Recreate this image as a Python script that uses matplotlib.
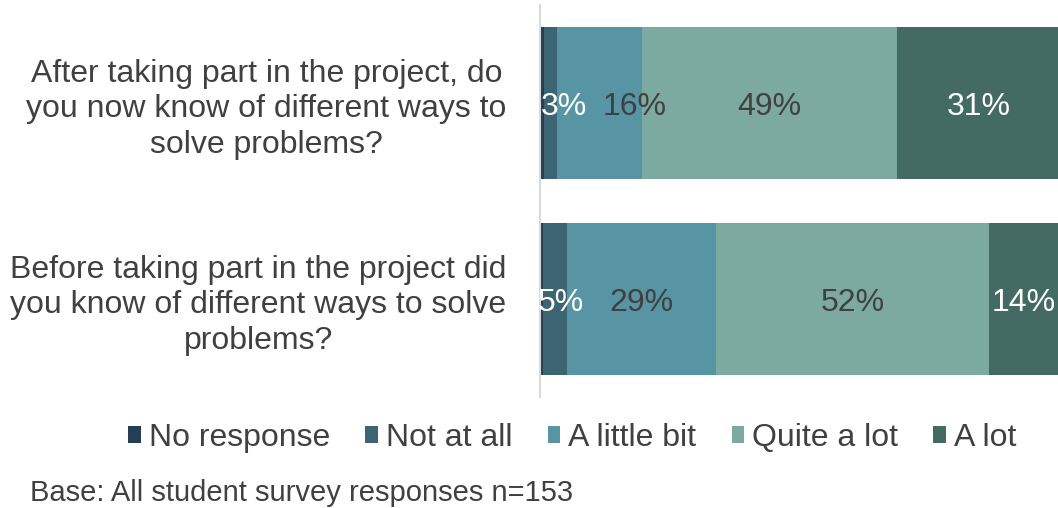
import numpy as np
import matplotlib
matplotlib.use('Agg')
import matplotlib.pyplot as plt

plt.rcParams['font.family'] = ['Liberation Sans', 'DejaVu Sans']

# survey questions (bottom to top)
questions = [
    'Before taking part in the project did\nyou know of different ways to solve\nproblems?',
    'After taking part in the project, do\nyou now know of different ways to\nsolve problems?',
]
responses = ['No response', 'Not at all', 'A little bit', 'Quite a lot', 'A lot']

# percentage per response, rows follow questions
no_response = [0.6, 0.7]
not_at_all = [4.6, 2.6]
a_little_bit = [28.7, 16.3]
quite_a_lot = [52.4, 49.0]
a_lot = [13.6, 31.4]

colors = ['#243f54', '#3d6472', '#5795a5', '#7daaa0', '#436b63']
label_colors = [None, 'white', '#404040', '#404040', 'white']
# nudge (points) for crowded labels on the top bar
nudge = {(1, 1): 10, (1, 2): 25, (0, 1): 4}

series = [no_response, not_at_all, a_little_bit, quite_a_lot, a_lot]

fig = plt.figure(figsize=(10.58, 5.08), dpi=100)
ax = fig.add_axes([0.5104, 0.2185, 0.4915, 0.7715])

y = np.arange(len(questions))
left = np.zeros(len(questions))
for i, vals in enumerate(series):
    vals = np.array(vals)
    ax.barh(y, vals, left=left, height=0.775, color=colors[i], label=responses[i])
    if label_colors[i] is not None:
        for j, v in enumerate(vals):
            ax.annotate(f'{v:.0f}%', (left[j] + v / 2, y[j]),
                        xytext=(nudge.get((j, i), 0), -3), textcoords='offset points',
                        ha='center', va='center', fontsize=23, color=label_colors[i])
    left += vals

ax.set_xlim(0, 100)
ax.set_ylim(-0.5, 1.5)
ax.set_xticks([])
ax.set_yticks(y)
ax.set_yticklabels(questions, fontsize=23, color='#404040', linespacing=1.24)
for lab in ax.get_yticklabels():
    lab.set_multialignment('center')
ax.tick_params(axis='y', length=0, pad=24)
for s in ['top', 'right', 'bottom']:
    ax.spines[s].set_visible(False)
ax.spines['left'].set_color('#d9d9d9')
ax.spines['left'].set_linewidth(1.5)

fig.legend(loc='center', bbox_to_anchor=(0.541, 0.138), ncol=5, frameon=False,
           fontsize=23, handlelength=0.4, handleheight=0.4, handletextpad=0.25,
           columnspacing=1.1, labelcolor='#404040')

fig.text(0.028, 0.03, 'Base: All student survey responses n=153', fontsize=21,
         color='#404040', va='center', ha='left')

fig.savefig('out.png', dpi=100)
